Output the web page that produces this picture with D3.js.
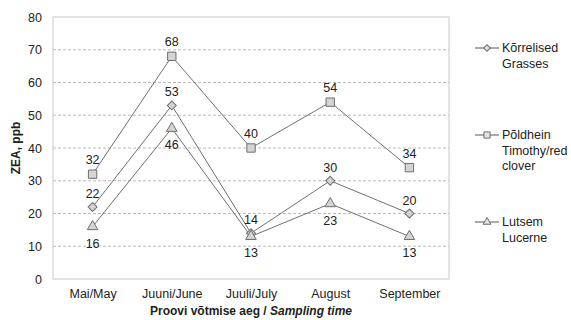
<!DOCTYPE html>
<html lang="et">
    <head>
        <meta charset="utf-8">
        <title>ZEA</title>
        <script src="https://d3js.org/d3.v7.min.js"></script>
        <style>
            body { margin: 0; background: #fff; }
            text { font-family: "Liberation Sans", Arial, sans-serif; fill: #222; }
        </style>
    </head>

    <body>
        <div id="chart"></div>

        <script>
            // data
            var months = ["Mai/May", "Juuni/June", "Juuli/July", "August", "September"];
            var grasses = [22, 53, 14, 30, 20];
            var timothy = [32, 68, 40, 54, 34];
            var lucerne = [16, 46, 13, 23, 13];
            var yTicks = [0, 10, 20, 30, 40, 50, 60, 70, 80];

            var width = 571, height = 320;
            var plotLeft = 53, plotRight = 449, plotTop = 17, plotBottom = 279;
            var fs = "12.5px";

            var svg = d3.select("#chart")
                        .append("svg")
                        .attr("width", width)
                        .attr("height", height);

            var x = d3.scalePoint()
                      .domain(months)
                      .range([plotLeft, plotRight])
                      .padding(0.5);

            var y = d3.scaleLinear()
                      .domain([0, 80])
                      .range([plotBottom, plotTop]);

            // gridlines
            svg.append("g")
               .selectAll("line")
               .data(yTicks.filter(function(d){ return d > 0 && d < 80; }))
               .enter()
               .append("line")
               .attr("x1", plotLeft).attr("x2", plotRight)
               .attr("y1", function(d){ return y(d); })
               .attr("y2", function(d){ return y(d); })
               .attr("stroke", "#bbb")
               .attr("stroke-dasharray", "3,2");

            // plot border
            svg.append("rect")
               .attr("x", plotLeft).attr("y", plotTop)
               .attr("width", plotRight - plotLeft).attr("height", plotBottom - plotTop)
               .attr("fill", "none")
               .attr("stroke", "#c8c8c8");

            // y axis
            var yAxis = svg.append("g")
                .attr("transform", "translate(" + plotLeft + ",0)")
                .call(d3.axisLeft(y).tickValues(yTicks).tickSize(0).tickPadding(11));
            yAxis.select(".domain").remove();
            yAxis.selectAll("text").style("font-size", fs).attr("fill", "#222")
                 .style("font-family", "Liberation Sans, Arial, sans-serif");

            // x axis
            var xAxis = svg.append("g")
                .attr("transform", "translate(0," + plotBottom + ")")
                .call(d3.axisBottom(x).tickSize(0).tickPadding(10));
            xAxis.select(".domain").remove();
            xAxis.selectAll("text").style("font-size", fs).attr("fill", "#222")
                 .style("font-family", "Liberation Sans, Arial, sans-serif");

            // axis titles
            svg.append("text")
               .attr("transform", "translate(20," + ((plotTop + plotBottom) / 2) + ") rotate(-90)")
               .attr("text-anchor", "middle")
               .style("font-size", "12px")
               .style("font-weight", "bold")
               .text("ZEA, ppb");

            var xt = svg.append("text")
               .attr("x", (plotLeft + plotRight) / 2)
               .attr("y", 315)
               .attr("text-anchor", "middle")
               .style("font-size", "12px")
               .style("font-weight", "bold");
            xt.append("tspan").text("Proovi võtmise aeg / ");
            xt.append("tspan").style("font-style", "italic").text("Sampling time");

            var series = [
                {name: ["Kõrrelised", "Grasses"], values: grasses, shape: d3.symbolSquare, rot: 45, size: 40, labelDy: -9, legendY: 48},
                {name: ["Põldhein", "Timothy/red", "clover"], values: timothy, shape: d3.symbolSquare, rot: 0, size: 70, labelDy: -10, legendY: 135},
                {name: ["Lutsem", "Lucerne"], values: lucerne, shape: d3.symbolTriangle, rot: 0, size: 48, labelDy: 21, legendY: 222}
            ];

            var line = d3.line()
                         .x(function(d, i){ return x(months[i]); })
                         .y(function(d){ return y(d); });

            series.forEach(function(s){
                svg.append("path")
                   .datum(s.values)
                   .attr("d", line)
                   .attr("fill", "none")
                   .attr("stroke", "#707070")
                   .attr("stroke-width", 1);
            });

            series.forEach(function(s){
                var sym = d3.symbol().type(s.shape).size(s.size);
                svg.append("g")
                   .selectAll("path")
                   .data(s.values)
                   .enter()
                   .append("path")
                   .attr("d", sym)
                   .attr("transform", function(d, i){ return "translate(" + x(months[i]) + "," + y(d) + ") rotate(" + s.rot + ")"; })
                   .attr("fill", "#d4d4d4")
                   .attr("stroke", "#6e6e6e");

                svg.append("g")
                   .selectAll("text")
                   .data(s.values)
                   .enter()
                   .append("text")
                   .attr("x", function(d, i){ return x(months[i]); })
                   .attr("y", function(d){ return y(d) + s.labelDy; })
                   .attr("text-anchor", "middle")
                   .style("font-size", fs)
                   .text(function(d){ return d; });

                // legend
                var lg = svg.append("g").attr("transform", "translate(475," + s.legendY + ")");
                lg.append("line").attr("x1", 0).attr("x2", 24).attr("y1", 0).attr("y2", 0)
                  .attr("stroke", "#555");
                lg.append("path")
                  .attr("d", d3.symbol().type(s.shape).size(s.size * 0.55))
                  .attr("transform", "translate(12,0) rotate(" + s.rot + ")")
                  .attr("fill", "#e2e2e2")
                  .attr("stroke", "#6e6e6e");
                lg.selectAll("text")
                  .data(s.name)
                  .enter()
                  .append("text")
                  .attr("x", 27)
                  .attr("y", function(d, i){ return 4 + i * 15.5; })
                  .style("font-size", fs)
                  .text(function(d){ return d; });
            });
        </script>
    </body>
</html>
